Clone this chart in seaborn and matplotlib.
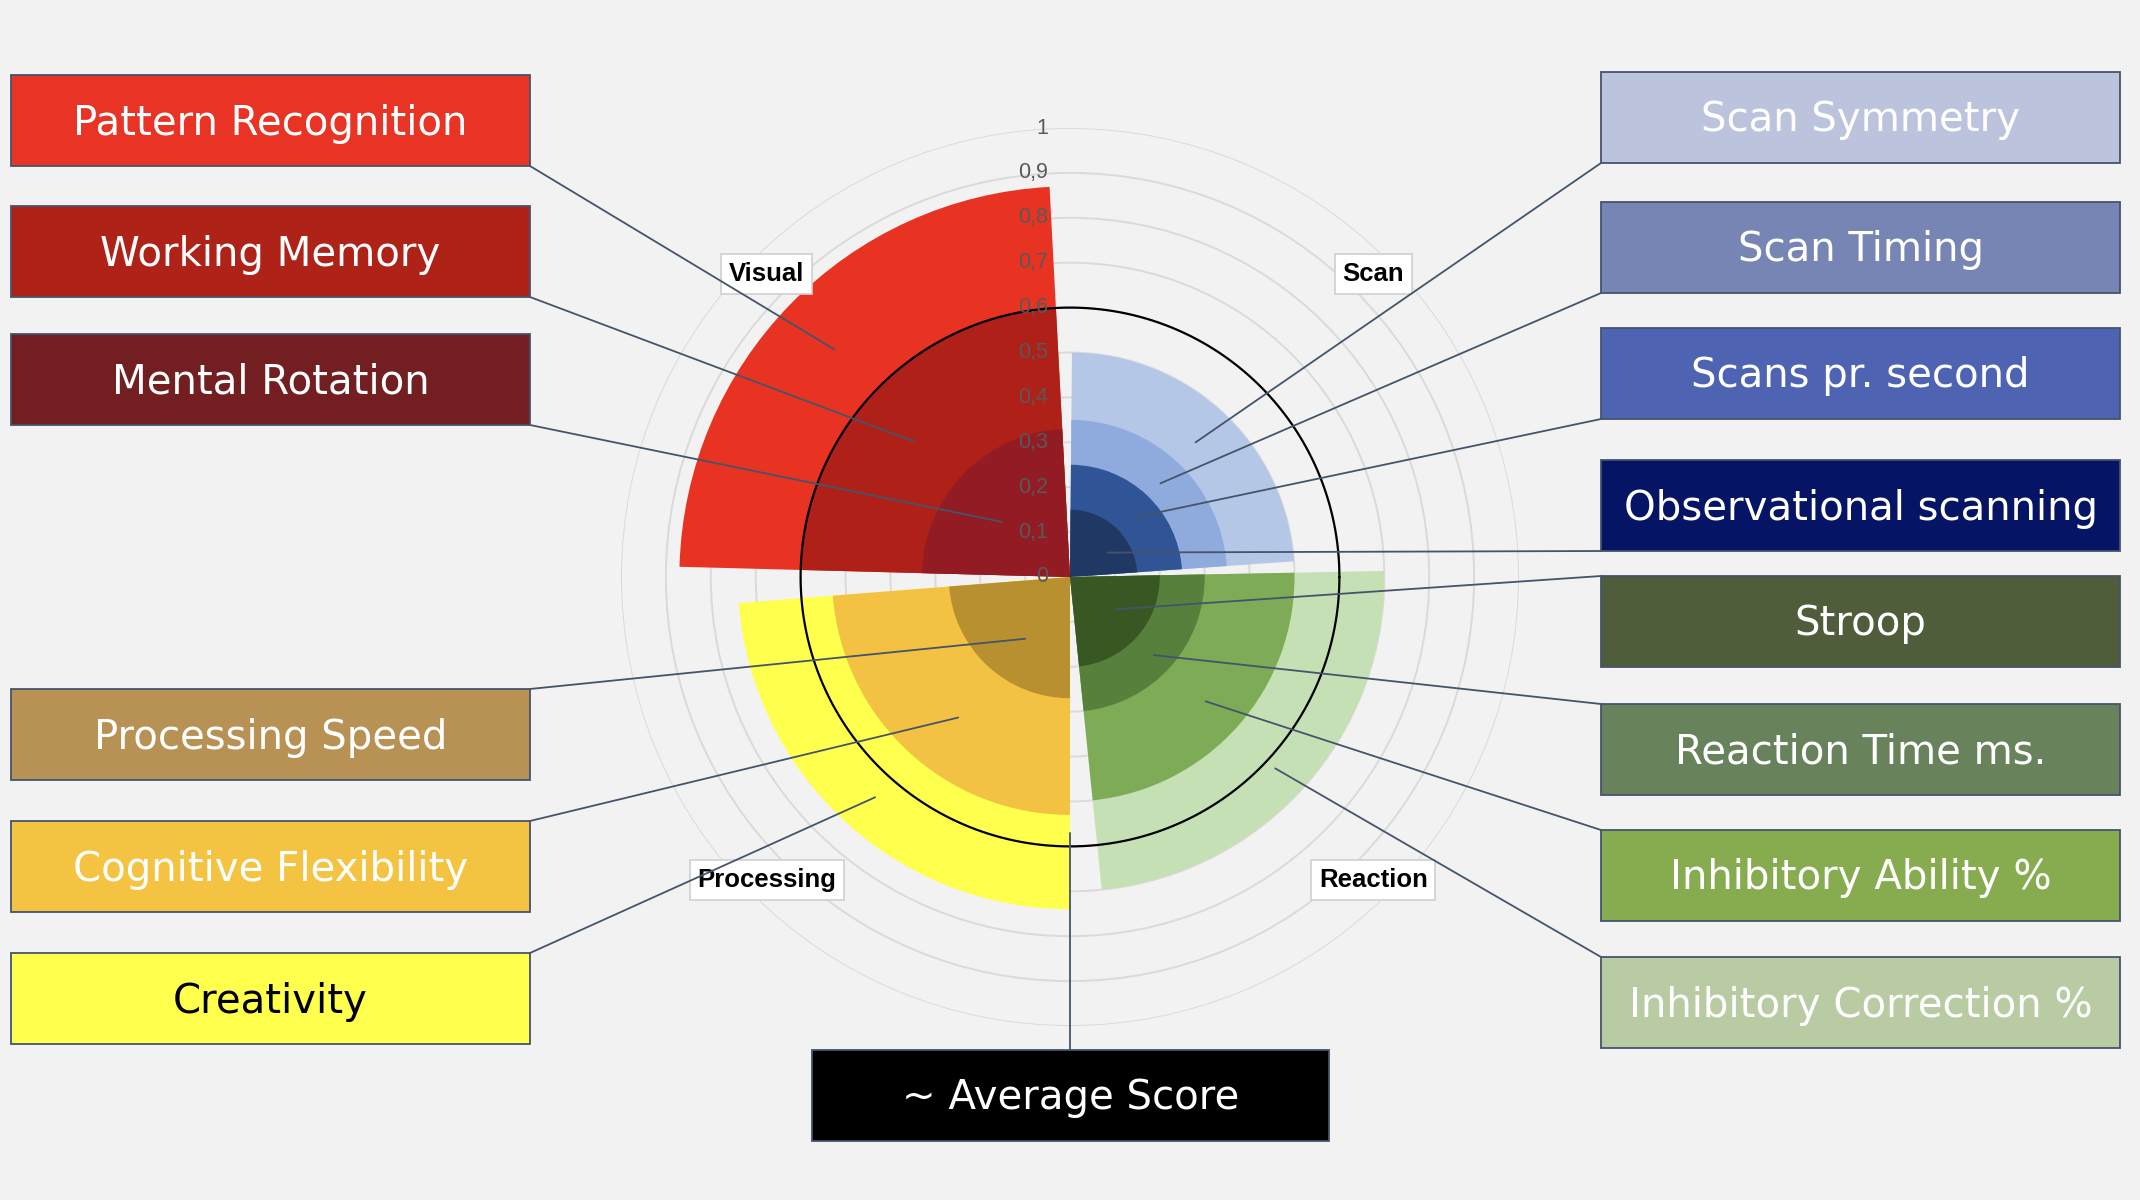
import numpy as np
import matplotlib.pyplot as plt
import seaborn as sns
from matplotlib.patches import Rectangle
from matplotlib.transforms import offset_copy

# ---- data ----
visual_labels = ['Pattern Recognition', 'Working Memory', 'Mental Rotation']
visual_scores = [0.87, 0.60, 0.33]
scan_labels = ['Scan Symmetry', 'Scan Timing', 'Scans pr. second', 'Observational scanning']
scan_scores = [0.50, 0.35, 0.25, 0.15]
reaction_labels = ['Inhibitory Correction %', 'Inhibitory Ability %', 'Reaction Time ms.', 'Stroop']
reaction_scores = [0.70, 0.50, 0.30, 0.20]
processing_labels = ['Creativity', 'Cognitive Flexibility', 'Processing Speed']
processing_scores = [0.74, 0.53, 0.27]
average_score = 0.6
average_label = '~ Average Score'

group_names = ['Visual', 'Scan', 'Reaction', 'Processing']
r_ticks = [0, 0.1, 0.2, 0.3, 0.4, 0.5, 0.6, 0.7, 0.8, 0.9, 1]
r_tick_labels = ['0', '0,1', '0,2', '0,3', '0,4', '0,5', '0,6', '0,7', '0,8', '0,9', '1']

# ---- styling ----
wedge_colors = {
    'Pattern Recognition': '#E83323', 'Working Memory': '#AF2118', 'Mental Rotation': '#931B24',
    'Scan Symmetry': '#B4C7E7', 'Scan Timing': '#8FAADC', 'Scans pr. second': '#2F5597',
    'Observational scanning': '#203864',
    'Inhibitory Correction %': '#C5E0B4', 'Inhibitory Ability %': '#7EAB55',
    'Reaction Time ms.': '#58803D', 'Stroop': '#385723',
    'Creativity': '#FFFF4D', 'Cognitive Flexibility': '#F4C242', 'Processing Speed': '#B8902F',
}
box_colors = {
    'Pattern Recognition': '#E83325', 'Working Memory': '#AF2218', 'Mental Rotation': '#731E20',
    'Scan Symmetry': '#BCC3DC', 'Scan Timing': '#7785B4', 'Scans pr. second': '#4E63B1',
    'Observational scanning': '#061466',
    'Stroop': '#505D3B', 'Reaction Time ms.': '#68835C', 'Inhibitory Ability %': '#86AC4F',
    'Inhibitory Correction %': '#B9CBA3',
    'Processing Speed': '#B89155', 'Cognitive Flexibility': '#F4C342', 'Creativity': '#FFFF4D',
}
# angular span of each quadrant (degrees)
group_spans = {'Visual': (93, 178.5), 'Scan': (4, 89.5),
               'Reaction': (-84.2, 1.1), 'Processing': (184.5, 270)}
group_label_angle = {'Visual': 135, 'Scan': 45, 'Reaction': 315, 'Processing': 225}

# label boxes: (left px, top px, corner the leader starts from)
BOX_W, BOX_H = 519, 91
LX, RX = 11, 1601
box_layout = {
    'Pattern Recognition': (LX, 75, 'br'), 'Working Memory': (LX, 206, 'br'),
    'Mental Rotation': (LX, 334, 'br'), 'Processing Speed': (LX, 689, 'tr'),
    'Cognitive Flexibility': (LX, 821, 'tr'), 'Creativity': (LX, 953, 'tr'),
    'Scan Symmetry': (RX, 72, 'bl'), 'Scan Timing': (RX, 202, 'bl'),
    'Scans pr. second': (RX, 328, 'bl'), 'Observational scanning': (RX, 460, 'bl'),
    'Stroop': (RX, 576, 'tl'), 'Reaction Time ms.': (RX, 704, 'tl'),
    'Inhibitory Ability %': (RX, 830, 'tl'), 'Inhibitory Correction %': (RX, 957, 'tl'),
}
# where each leader line ends inside the chart (degrees, radius)
leader_ends = {
    'Pattern Recognition': (136, 0.73), 'Working Memory': (139, 0.46), 'Mental Rotation': (141, 0.195),
    'Scan Symmetry': (47, 0.41), 'Scan Timing': (46, 0.29), 'Scans pr. second': (42, 0.20),
    'Observational scanning': (33, 0.10),
    'Stroop': (-35, 0.125), 'Reaction Time ms.': (-43, 0.255), 'Inhibitory Ability %': (-42.5, 0.41),
    'Inhibitory Correction %': (-43, 0.625),
    'Processing Speed': (234, 0.17), 'Cognitive Flexibility': (231.5, 0.40), 'Creativity': (228.5, 0.655),
}

W, H = 2140, 1200
CX, CY, R = 1070, 577, 449
LINE_C = '#44546A'
BG = '#F2F2F2'
NARROW = ['Liberation Sans', 'DejaVu Sans']

sns.set_theme(style='white', rc={'figure.facecolor': BG, 'axes.facecolor': 'none',
                                 'savefig.facecolor': BG})
plt.rcParams['font.family'] = ['DejaVu Sans']

fig = plt.figure(figsize=(W / 100, H / 100), dpi=100)
ax = fig.add_axes([(CX - R) / W, 1 - (CY + R) / H, 2 * R / W, 2 * R / H], projection='polar')
ax.set_ylim(0, 1)
ax.set_xticks([])
ax.set_yticks(np.arange(1, 11) / 10)
ax.set_yticklabels([])
ax.yaxis.grid(True, color='#DADADA', lw=1.4)
ax.spines['polar'].set_visible(False)
ax.set_axisbelow(True)

groups = {
    'Visual': (visual_labels, visual_scores),
    'Scan': (scan_labels, scan_scores),
    'Reaction': (reaction_labels, reaction_scores),
    'Processing': (processing_labels, processing_scores),
}
for g in group_names:
    labels, scores = groups[g]
    a0, a1 = group_spans[g]
    theta = np.deg2rad((a0 + a1) / 2)
    width = np.deg2rad(a1 - a0)
    # largest slice first so the smaller ones stay visible
    order = np.argsort(scores)[::-1]
    for i in order:
        ax.bar(theta, scores[i], width=width, bottom=0, color=wedge_colors[labels[i]],
               edgecolor='none', linewidth=0, zorder=2)

# average score circle
th = np.linspace(0, 2 * np.pi, 500)
ax.plot(th, np.full_like(th, average_score), color='black', lw=1.6, zorder=4)

# radial tick labels along the vertical axis
tick_tr = offset_copy(ax.transData, fig=fig, x=-22, y=0, units='dots')
for v, t in zip(r_ticks, r_tick_labels):
    ax.text(np.pi / 2, v, t, transform=tick_tr, ha='right', va='center',
            fontsize=15.5, color='#595959', zorder=5, family=NARROW)

# group labels
for g in group_names:
    ax.text(np.deg2rad(group_label_angle[g]), 0.955, g, ha='center', va='center',
            fontsize=18.5, fontweight='bold', color='black', zorder=4, family=NARROW,
            bbox=dict(boxstyle='square,pad=0.3', fc='white', ec='#D0D0D0', lw=1.2))


def add_box(x, y, w, h, text, fc, tc):
    fig.add_artist(Rectangle((x / W, 1 - (y + h) / H), w / W, h / H, transform=fig.transFigure,
                             facecolor=fc, edgecolor=LINE_C, lw=1.3, zorder=3))
    fig.text((x + w / 2) / W, 1 - (y + h / 2 + 3) / H, text, ha='center', va='center',
             fontsize=29, color=tc, zorder=4)


for name, (x, y, corner) in box_layout.items():
    tc = 'black' if name == 'Creativity' else 'white'
    add_box(x, y, BOX_W, BOX_H, name, box_colors[name], tc)
    px = x + BOX_W if corner[1] == 'r' else x
    py = y + BOX_H if corner[0] == 'b' else y
    a, r = leader_ends[name]
    ax.annotate('', xy=(np.deg2rad(a), r), xycoords='data',
                xytext=(px, H - py), textcoords='figure pixels',
                arrowprops=dict(arrowstyle='-', color=LINE_C, lw=1.3, shrinkA=0, shrinkB=0),
                annotation_clip=False, zorder=6)

# average score box and its leader
add_box(812, 1050, 517, 91, average_label, 'black', 'white')
ax.annotate('', xy=(np.deg2rad(270), 0.57), xycoords='data',
            xytext=(CX, H - 1050), textcoords='figure pixels',
            arrowprops=dict(arrowstyle='-', color=LINE_C, lw=1.3, shrinkA=0, shrinkB=0),
            annotation_clip=False, zorder=6)

fig.savefig('out.png', dpi=100, facecolor=BG)
plt.close(fig)
